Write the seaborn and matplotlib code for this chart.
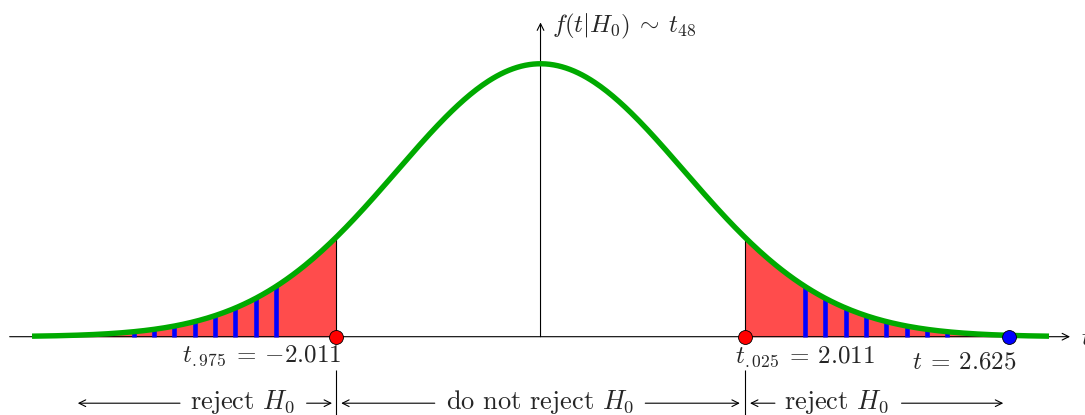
import numpy as np
import matplotlib
matplotlib.use("Agg")
import matplotlib.pyplot as plt
import seaborn as sns

# ── Data (in drawing units: 1 unit = one t step) ────────────────────────────
CURVE_PEAK   = 2.684      # height of the density at t = 0
CURVE_SPREAD = 1.414      # spread of the bell as drawn
CURVE_RANGE  = [-5.0, 5.0]
T_CRIT       = [-2.011, 2.011]
CRIT_LABELS  = [r"$t_{.975} \:=\: -2.011$", r"$t_{.025} \:=\: 2.011$"]
STRIPES_LEFT  = [-4.0, -3.8, -3.6, -3.4, -3.2, -3.0, -2.8, -2.6]
STRIPES_RIGHT = [2.6, 2.8, 3.0, 3.2, 3.4, 3.6, 3.8, 4.0]
T_OBS_POS    = 4.61       # where the observed t is drawn
T_OBS_LABEL  = r"$t \:=\: 2.625$"
REGION_LABELS = ["reject $H_0$", "do not reject $H_0$", "reject $H_0$"]
REGION_CENTERS = [-2.93, 0.0, 2.91]

GREEN = "#00AA00"
RED   = "#FF4C4C"
BLUE  = "#0000FF"

# ── Styling ──────────────────────────────────────────────────────────────────
sns.set_theme(style="white")
plt.rcParams.update({"mathtext.fontset": "cm", "font.size": 18})
TEXT_FONT = "cmr10"       # Computer Modern roman, shipped with matplotlib


def density(t):
    return CURVE_PEAK * np.exp(-(np.asarray(t) / CURVE_SPREAD) ** 2 / 2)


fig = plt.figure(figsize=(10.85, 4.15), dpi=100)
ax = fig.add_axes([0, 0, 1, 1])
ax.set_xlim(-5.315, 5.354)
ax.set_ylim(-0.770, 3.311)
ax.axis("off")

# ---- rejection regions (red) ----
for lo, hi in [(CURVE_RANGE[0], T_CRIT[0]), (T_CRIT[1], CURVE_RANGE[1])]:
    xs = np.linspace(lo, hi, 200)
    ax.fill_between(xs, 0, density(xs), color=RED, lw=0, zorder=1)

# ---- p-value stripes (blue) ----
stripes = STRIPES_LEFT + STRIPES_RIGHT
ax.vlines(stripes, 0, density(stripes), color=BLUE, lw=3.3, zorder=2)

# ---- critical value lines ----
ax.vlines(T_CRIT, 0, density(T_CRIT), color="black", lw=0.8, zorder=2)

# ---- axes with arrows ----
arrow = dict(arrowstyle="->", lw=0.8, color="black", mutation_scale=12,
             shrinkA=0, shrinkB=0)
ax.annotate("", xy=(5.207, 0), xytext=(-5.22, 0), arrowprops=arrow, zorder=1.5)
ax.annotate("", xy=(0, 3.09), xytext=(0, 0), arrowprops=arrow, zorder=1.5)
ax.text(5.31, -0.08, r"$t$", ha="left", va="baseline")
ax.text(0.11, 2.987, r"$f(t|H_0) \:\sim\: t_{48}$", ha="left", va="baseline")

# ---- density curve ----
xs = np.linspace(CURVE_RANGE[0], CURVE_RANGE[1], 500)
sns.lineplot(x=xs, y=density(xs), color=GREEN, lw=3.9, ax=ax,
             solid_capstyle="butt", zorder=3)

# ---- points ----
ax.plot(T_CRIT, [0, 0], "o", ms=10, mfc="#FF0000", mec="black", mew=0.6, zorder=4)
ax.plot([T_OBS_POS], [0], "o", ms=10, mfc=BLUE, mec="black", mew=0.6, zorder=4)

# ---- point labels ----
ax.text(-2.74, -0.244, CRIT_LABELS[0], ha="center", va="baseline")
ax.text(2.60, -0.254, CRIT_LABELS[1], ha="center", va="baseline")
ax.text(4.17, -0.310, T_OBS_LABEL, ha="center", va="baseline")

# ---- decision regions along the bottom ----
ax.vlines(T_CRIT, -0.327, -0.80, color="black", lw=0.8)
y_arr = -0.654
y_txt = -0.711
for c, lab in zip(REGION_CENTERS, REGION_LABELS):
    ax.text(c, y_txt, lab, ha="center", va="baseline", family=TEXT_FONT,
            fontsize=19)

segments = [(-3.545, -4.55), (-2.30, -2.05),     # left: text -> ends
            (-1.04, -1.96), (1.03, 1.96),        # middle
            (2.305, 2.06), (3.55, 4.55)]         # right
for start, end in segments:
    ax.annotate("", xy=(end, y_arr), xytext=(start, y_arr), arrowprops=arrow)

fig.savefig("out.png", dpi=100)
